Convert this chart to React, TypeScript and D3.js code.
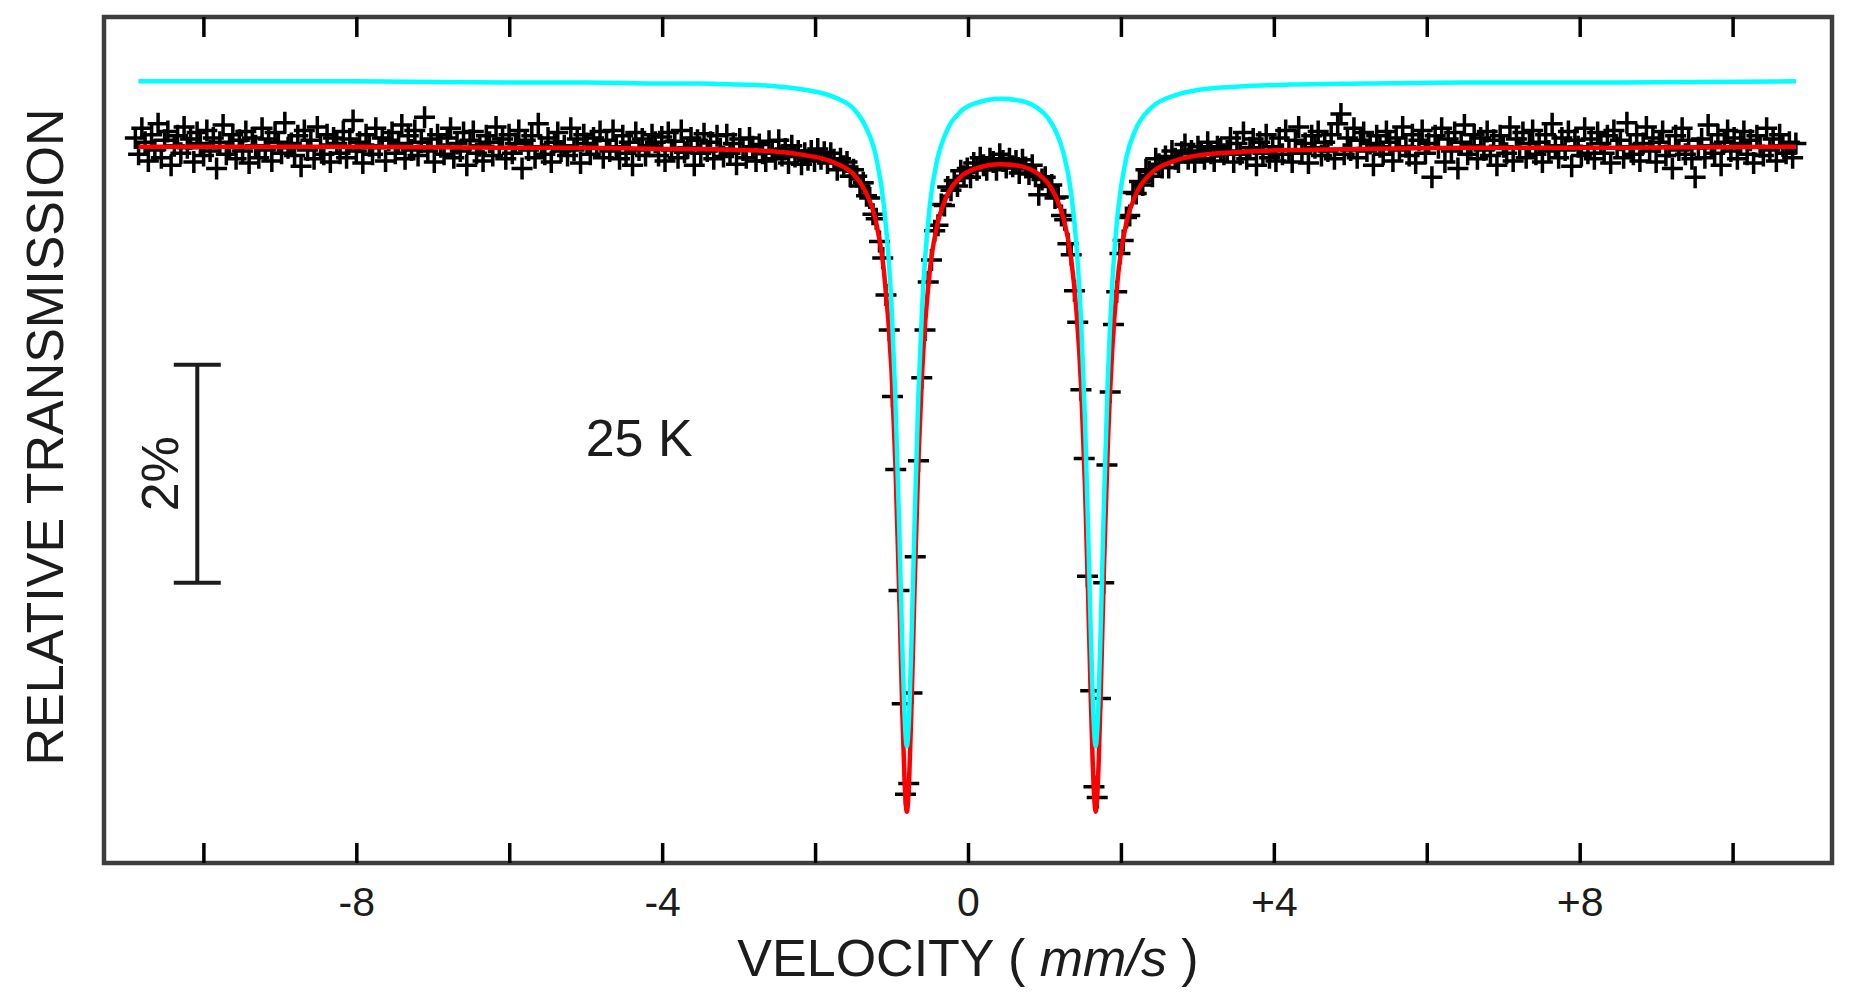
import { useEffect, useRef } from 'react';
import * as d3 from 'd3';

const WIDTH = 1861;
const HEIGHT = 1000;

// velocity calibration of the 512 channels (mm/s)
const CHANNEL_V0 = -10.89;
const CHANNEL_DV = 0.0425;

// relative transmission (%) per channel
const transmission = [
  100.08, 99.93, 100.17, 100.04, 99.87, 100.11, 99.97, 100.21, 99.90, 100.06, 100.14, 99.83, 100.01, 100.10, 99.94, 100.18,
  99.99, 100.07, 99.86, 100.13, 100.03, 99.92, 100.15, 99.96, 100.08, 99.80, 100.04, 100.20, 99.93, 100.00, 100.11, 99.89,
  100.06, 99.96, 100.14, 99.85, 100.08, 100.01, 99.90, 100.17, 99.97, 100.07, 99.87, 100.13, 100.04, 99.94, 100.22, 99.99,
  100.03, 99.92, 100.10, 99.82, 100.15, 99.97, 100.06, 99.89, 100.18, 100.00, 99.93, 100.11, 99.86, 100.08, 100.03, 99.94,
  100.14, 99.90, 100.07, 100.24, 99.96, 100.04, 99.85, 100.11, 100.01, 99.93, 100.17, 99.99, 100.08, 99.87, 100.06, 100.13,
  99.94, 100.03, 100.20, 99.89, 100.10, 99.97, 100.15, 99.92, 100.04, 100.27, 99.96, 100.07, 99.86, 100.11, 100.00, 99.93,
  100.08, 100.17, 99.90, 100.03, 99.96, 100.13, 99.83, 100.06, 100.14, 99.94, 100.01, 99.87, 100.10, 100.04, 99.92, 100.18,
  99.99, 100.07, 99.89, 100.11, 99.94, 100.03, 100.15, 99.80, 100.06, 99.97, 100.10, 99.90, 100.21, 100.00, 99.93, 100.08,
  99.86, 100.04, 100.13, 99.96, 100.01, 99.92, 100.17, 99.97, 100.07, 99.85, 100.11, 100.03, 99.93, 100.08, 99.99, 100.14,
  99.90, 100.06, 99.96, 100.15, 100.00, 99.89, 100.10, 99.94, 100.04, 99.83, 100.13, 99.97, 100.07, 99.92, 100.01, 100.11,
  100.04, 99.92, 100.09, 99.87, 100.13, 99.97, 100.05, 99.90, 100.15, 99.95, 99.99, 100.08, 99.83, 100.06, 99.94, 100.12,
  99.96, 100.04, 99.89, 100.10, 99.98, 99.91, 100.11, 99.94, 100.03, 99.84, 100.07, 99.97, 99.90, 100.08, 100.00, 99.87,
  100.02, 99.94, 99.87, 100.05, 99.96, 99.89, 100.06, 99.92, 99.98, 99.85, 100.01, 99.91, 99.96, 99.84, 99.94, 99.88,
  // first line
  99.96, 99.87, 99.98, 99.89, 99.95, 99.85, 99.94, 99.88, 99.79, 99.89, 99.82, 99.86, 99.73, 99.79, 99.73, 99.64,
  99.67, 99.55, 99.53, 99.38, 99.34, 99.13, 98.98, 98.64, 98.32, 97.71, 97.04, 95.93, 94.89, 94.06,
  94.16, 94.99, 96.24, 97.12, 97.88, 98.32, 98.76, 98.96, 99.23, 99.28, 99.47, 99.46, 99.63, 99.60, 99.69, 99.64,
  99.78, 99.73, 99.80, 99.72, 99.85, 99.79, 99.90, 99.83, 99.79, 99.89, 99.86, 99.79, 99.93, 99.87, 99.81, 99.89,
  99.82, 99.87, 99.76, 99.88, 99.81, 99.75, 99.83, 99.73, 99.56, 99.70, 99.72, 99.64, 99.65, 99.53, 99.54, 99.37,
  99.33, 99.11, 99.01, 98.68, 98.39, 97.77, 97.14, 96.06, 95.01,
  // second line
  94.13, 94.03, 94.94, 96.00, 97.08, 97.75, 98.37, 98.67, 99.02, 99.14, 99.35, 99.37, 99.58, 99.57, 99.68, 99.65,
  99.79, 99.77, 99.73, 99.89, 99.84, 99.81, 99.91, 99.81, 99.96, 99.89, 99.86, 99.95, 100.02, 99.89, 99.96, 99.86,
  100.00, 99.95, 99.89, 100.04, 99.94, 99.87, 100.00, 99.98, 99.93,
  99.96, 100.08, 99.86, 100.03, 99.93, 100.13, 99.89, 99.99, 100.07, 99.83, 100.04, 99.94, 100.11, 99.90, 100.00, 99.87,
  100.08, 99.93, 100.15, 99.97, 99.86, 100.06, 100.18, 99.94, 100.03, 99.85, 100.10, 99.99, 100.14, 99.92, 100.04, 99.96,
  100.11, 99.89, 100.21, 100.30, 99.93, 100.08, 99.97, 100.17, 99.90, 100.06, 100.13, 99.96, 100.03, 99.83, 100.10, 100.00,
  99.93, 100.14, 100.04, 99.87, 100.08, 99.97, 100.18, 100.00, 99.92, 100.11, 99.85, 100.06, 100.15, 99.94, 100.03, 99.72,
  100.10, 99.99, 100.17, 99.86, 100.07, 99.96, 100.13, 99.80, 100.04, 100.20, 99.93, 100.01, 100.11, 99.89, 100.08, 99.97,
  100.14, 99.92, 100.06, 99.83, 100.10, 100.00, 99.94, 100.18, 99.87, 100.07, 99.99, 100.13, 99.90, 100.03, 100.15, 99.93,
  100.04, 99.86, 100.11, 99.96, 100.21, 100.01, 99.90, 100.08, 99.97, 100.14, 99.82, 100.06, 100.00, 99.92, 100.17, 99.94,
  100.07, 99.89, 100.13, 100.03, 99.94, 100.10, 99.85, 100.15, 99.99, 100.06, 99.90, 100.22, 100.00, 99.93, 100.11, 99.87,
  100.03, 100.18, 99.96, 100.08, 99.86, 100.04, 100.14, 99.92, 100.00, 99.80, 100.10, 99.97, 100.17, 99.93, 100.06, 99.89,
  99.72, 99.99, 100.07, 99.90, 100.20, 100.01, 99.94, 100.11, 99.83, 100.04, 100.15, 99.96, 100.08, 99.89, 100.03, 100.14,
  99.93, 100.06, 99.85, 100.10, 100.00, 99.92, 100.17, 99.97, 100.07, 99.87, 100.11, 100.01, 99.94, 100.04, 99.90, 100.03,
];

// fit curves, sampled at these velocities
const fitVelocity = [
  -10.85, -8, -6, -5, -4, -3.5, -3, -2.6, -2.2, -1.9, -1.7, -1.5, -1.35, -1.2, -1.1, -1.0,
  -0.95, -0.9, -0.86, -0.83, -0.8, -0.77, -0.74, -0.7, -0.65, -0.6, -0.5, -0.4, -0.3, -0.1, 0.1, 0.43,
  0.7, 0.9, 1.05, 1.15, 1.25, 1.35, 1.42, 1.48, 1.53, 1.57, 1.6, 1.63, 1.67, 1.71, 1.74, 1.78,
  1.83, 1.89, 1.96, 2.07, 2.2, 2.4, 2.7, 3.0, 3.5, 4.2, 5.2, 6.5, 8.5, 10.83,
];
const fitRed = [
  100.0, 100.0, 99.99, 99.99, 99.98, 99.98, 99.97, 99.96, 99.93, 99.89, 99.84, 99.75, 99.6, 99.3, 98.86, 97.94,
  97.1, 95.92, 94.84, 94.19, 93.9, 94.19, 94.84, 95.92, 97.1, 97.93, 98.86, 99.29, 99.51, 99.72, 99.8, 99.84,
  99.82, 99.76, 99.66, 99.54, 99.34, 98.97, 98.48, 97.79, 96.89, 95.91, 95.1, 94.37, 93.9, 94.37, 95.1, 96.18,
  97.29, 98.18, 98.8, 99.3, 99.57, 99.76, 99.87, 99.92, 99.95, 99.97, 99.98, 99.99, 99.99, 100.0,
];
const fitCyan = [
  100.6, 100.6, 100.59, 100.59, 100.58, 100.58, 100.57, 100.56, 100.53, 100.49, 100.44, 100.35, 100.2, 99.9, 99.46, 98.54,
  97.7, 96.52, 95.44, 94.79, 94.5, 94.79, 95.44, 96.52, 97.7, 98.53, 99.46, 99.89, 100.11, 100.32, 100.4, 100.44,
  100.42, 100.36, 100.26, 100.14, 99.94, 99.57, 99.08, 98.39, 97.49, 96.51, 95.7, 94.97, 94.5, 94.97, 95.7, 96.78,
  97.89, 98.78, 99.4, 99.9, 100.17, 100.36, 100.47, 100.52, 100.55, 100.57, 100.58, 100.59, 100.59, 100.6,
];

const majorTicks = [-10, -8, -6, -4, -2, 0, 2, 4, 6, 8, 10];
const labelledTicks = [-8, -4, 0, 4, 8];
const tickLabels = ['-8', '-4', '0', '+4', '+8'];

const X_DOMAIN: [number, number] = [-11.3, 11.3];
const Y_DOMAIN: [number, number] = [93.43, 101.19];

// 2% scale bar and temperature note
const SCALE_BAR_V = -10.08;
const SCALE_BAR_RANGE = [96, 98];
const TEMP_LABEL = '25 K';

export default function App() {
  const svgRef = useRef<SVGSVGElement>(null);

  useEffect(() => {
    document.body.style.margin = '0';
    if (!svgRef.current) return;

    const margin = { top: 17, right: 29, bottom: 137, left: 104 };
    const W = WIDTH - margin.left - margin.right;
    const H = HEIGHT - margin.top - margin.bottom;

    const svg = d3.select(svgRef.current);
    svg.selectAll('*').remove();
    svg.attr('width', WIDTH).attr('height', HEIGHT);

    const font = '"Liberation Sans", Arial, Helvetica, sans-serif';
    const ink = '#1c1c1c';

    const x = d3.scaleLinear().domain(X_DOMAIN).range([0, W]);
    const y = d3.scaleLinear().domain(Y_DOMAIN).range([H, 0]);

    svg.append('rect').attr('width', WIDTH).attr('height', HEIGHT).attr('fill', '#fff');
    const g = svg.append('g').attr('transform', `translate(${margin.left},${margin.top})`);

    // Data crosses
    const points = transmission.map((t, i) => ({ v: CHANNEL_V0 + i * CHANNEL_DV, t }));
    g.append('g')
      .selectAll('path')
      .data(points)
      .join('path')
      .attr('transform', d => `translate(${x(d.v)},${y(d.t)})`)
      .attr('d', 'M-10.5,0H10.5M0,-11V11')
      .attr('fill', 'none')
      .attr('stroke', '#000')
      .attr('stroke-width', 3.5);

    // Fits
    const line = d3.line<number>()
      .x((_, i) => x(fitVelocity[i]))
      .y(d => y(d))
      .curve(d3.curveMonotoneX);
    g.append('path').attr('d', line(fitRed))
      .attr('fill', 'none').attr('stroke', '#ff0000').attr('stroke-width', 4.5).attr('stroke-linejoin', 'round');
    g.append('path').attr('d', line(fitCyan))
      .attr('fill', 'none').attr('stroke', '#00ffff').attr('stroke-width', 4.5).attr('stroke-linejoin', 'round');

    // Frame
    g.append('rect').attr('width', W).attr('height', H)
      .attr('fill', 'none').attr('stroke', '#3d3d3d').attr('stroke-width', 4.5);

    // Axes: inward ticks top and bottom
    const fmt = (d: d3.NumberValue) => {
      const k = labelledTicks.indexOf(+d);
      return k >= 0 ? tickLabels[k] : '';
    };
    g.append('g').attr('transform', `translate(0,${H})`)
      .call(d3.axisBottom(x).tickValues(majorTicks).tickSizeInner(-20).tickSizeOuter(0).tickPadding(24).tickFormat(fmt))
      .call(s => s.select('.domain').remove())
      .call(s => s.selectAll('line').attr('stroke', '#000').attr('stroke-width', 3.5))
      .call(s => s.selectAll('text').attr('font-family', font).attr('font-size', 41).attr('fill', ink));
    g.append('g')
      .call(d3.axisTop(x).tickValues(majorTicks).tickSizeInner(-20).tickSizeOuter(0).tickFormat(() => ''))
      .call(s => s.select('.domain').remove())
      .call(s => s.selectAll('line').attr('stroke', '#000').attr('stroke-width', 3.5));

    // Scale bar
    const bx = x(SCALE_BAR_V);
    const bar = g.append('g').attr('stroke', ink).attr('stroke-width', 4);
    bar.append('line').attr('x1', bx).attr('x2', bx).attr('y1', y(SCALE_BAR_RANGE[0])).attr('y2', y(SCALE_BAR_RANGE[1]));
    SCALE_BAR_RANGE.forEach(v => {
      bar.append('line').attr('x1', bx - 23.5).attr('x2', bx + 23.5).attr('y1', y(v)).attr('y2', y(v));
    });
    g.append('text')
      .attr('transform', `translate(${bx - 19},${y((SCALE_BAR_RANGE[0] + SCALE_BAR_RANGE[1]) / 2)}) rotate(-90)`)
      .attr('text-anchor', 'middle')
      .attr('font-family', font).attr('font-size', 52).attr('fill', ink)
      .text('2%');

    g.append('text')
      .attr('x', x(-5.0)).attr('y', y(97.16))
      .attr('font-family', font).attr('font-size', 52).attr('fill', ink)
      .text(TEMP_LABEL);

    // Axis titles
    svg.append('text')
      .attr('transform', `translate(63,437) rotate(-90)`)
      .attr('text-anchor', 'middle')
      .attr('font-family', font).attr('font-size', 52).attr('fill', ink)
      .text('RELATIVE TRANSMISSION');

    const xt = svg.append('text')
      .attr('x', margin.left + x(0)).attr('y', 976)
      .attr('text-anchor', 'middle')
      .attr('font-family', font).attr('font-size', 52).attr('fill', ink);
    xt.append('tspan').text('VELOCITY ( ');
    xt.append('tspan').attr('font-style', 'italic').text('mm/s');
    xt.append('tspan').text(' )');
  }, []);

  return <svg ref={svgRef} style={{ display: 'block' }} />;
}
